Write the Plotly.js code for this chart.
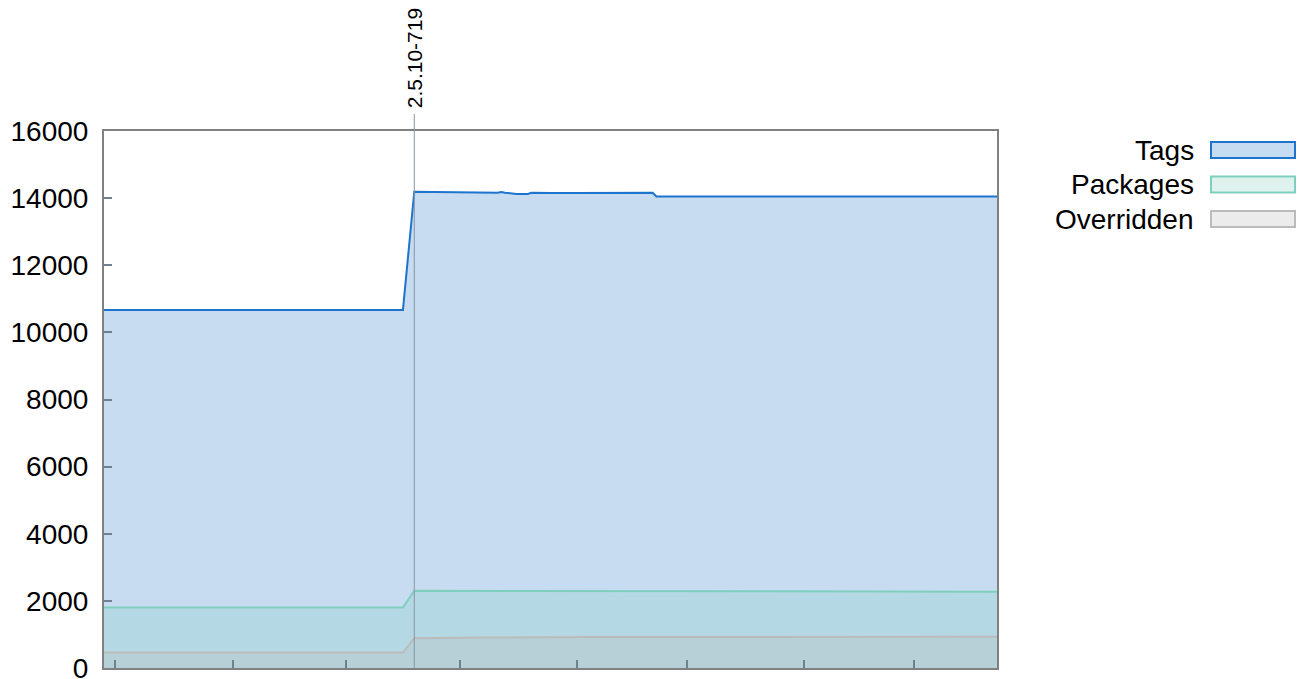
<!DOCTYPE html>
<html>
<head>
<meta charset="utf-8">
<script src="https://cdn.plot.ly/plotly-3.0.1.min.js"></script>
<style>html,body{margin:0;padding:0;background:#fff;}#chart{width:1303px;height:679px;}</style>
</head>
<body>
<div id="chart"></div>
<script>
// Data (x = day index)
const tagsX = [0, 79, 82, 90, 100, 104, 105, 106, 109, 112, 113, 116, 118, 125, 132, 137, 140, 145, 146, 155, 157, 158, 236];
const tagsY = [10670, 10670, 14190, 14180, 14165, 14160, 14185, 14160, 14120, 14125, 14160, 14165, 14150, 14150, 14155, 14150, 14160, 14160, 14050, 14050, 14070, 14050, 14050];
const pkgX = [0, 79, 82, 100, 120, 150, 180, 236];
const pkgY = [1800, 1800, 2300, 2295, 2290, 2285, 2280, 2275];
const ovrX = [0, 79, 82, 90, 100, 130, 180, 236];
const ovrY = [460, 460, 885, 900, 910, 920, 925, 930];
const seriesNames = ['Tags', 'Packages', 'Overridden'];
const xTicks = [3, 34, 64, 94, 125, 154, 185, 214];
const yTicks = [0, 2000, 4000, 6000, 8000, 10000, 12000, 14000, 16000];
const markerX = 82;
const markerLabel = '2.5.10-719';

const lineColors = ['rgb(30,115,205)', 'rgb(127,207,191)', 'rgb(187,187,187)'];
const fillColors = ['rgba(30,115,200,0.25)', 'rgba(127,207,191,0.25)', 'rgba(187,187,187,0.28)'];
const legendFills = ['#c6dcf0', '#e0f2ee', '#ececec'];

const W = 1303, H = 679;
const L = 104, R = 306, T = 131, B = 11;
const pw = W - L - R, ph = H - T - B;
const pxX = px => (px - L) / pw;
const pxY = py => (H - B - py) / ph;

const xs = [tagsX, pkgX, ovrX], ys = [tagsY, pkgY, ovrY];
const traces = xs.map((x, i) => ({
  x: x, y: ys[i], type: 'scatter', mode: 'lines', name: seriesNames[i],
  fill: 'tozeroy', fillcolor: fillColors[i],
  line: {color: lineColors[i], width: 2, shape: 'linear'},
  showlegend: false, hoverinfo: 'x+y'
}));

const shapes = [{
  type: 'line', xref: 'x', yref: 'paper', x0: markerX, x1: markerX, y0: 0, y1: pxY(114),
  line: {color: 'rgb(135,150,165)', width: 1}
}];
const annotations = [{
  xref: 'x', yref: 'paper', x: markerX, y: pxY(110), xanchor: 'center', yanchor: 'bottom',
  text: markerLabel, textangle: -90, showarrow: false,
  font: {family: 'Liberation Sans, Arial, sans-serif', size: 21, color: '#000'}
}];
const rowY = [150, 184.5, 219];
seriesNames.forEach((n, i) => {
  shapes.push({
    type: 'rect', xref: 'paper', yref: 'paper',
    x0: pxX(1211), x1: pxX(1295), y0: pxY(rowY[i] - 8), y1: pxY(rowY[i] + 8),
    fillcolor: legendFills[i], line: {color: lineColors[i], width: 2}
  });
  annotations.push({
    xref: 'paper', yref: 'paper', x: pxX(1196), y: pxY(rowY[i]), xanchor: 'right', yanchor: 'middle',
    text: n, showarrow: false,
    font: {family: 'Liberation Sans, Arial, sans-serif', size: 28, color: '#000'}
  });
});

const layout = {
  width: W, height: H,
  margin: {l: L, r: R, t: T, b: B, pad: 0},
  paper_bgcolor: '#fff', plot_bgcolor: '#fff',
  font: {family: 'Liberation Sans, Arial, sans-serif', size: 28, color: '#000'},
  xaxis: {
    range: [0, 236], tickvals: xTicks, showticklabels: false,
    ticks: 'inside', ticklen: 8, tickwidth: 2, tickcolor: 'rgb(112,128,144)',
    showgrid: false, zeroline: false, showline: true, mirror: true,
    linecolor: '#808080', linewidth: 2
  },
  yaxis: {
    range: [0, 16000], tickvals: yTicks, ticktext: yTicks.map(String),
    ticks: 'inside', ticklen: 8, tickwidth: 2, tickcolor: 'rgb(112,128,144)',
    showgrid: false, zeroline: false, showline: true, mirror: true,
    linecolor: '#808080', linewidth: 2,
    tickfont: {size: 28}, ticklabelstandoff: 8, ticklabeloverflow: 'allow'
  },
  shapes: shapes, annotations: annotations, showlegend: false
};
Plotly.newPlot('chart', traces, layout, {displayModeBar: false, staticPlot: true});
</script>
</body>
</html>
